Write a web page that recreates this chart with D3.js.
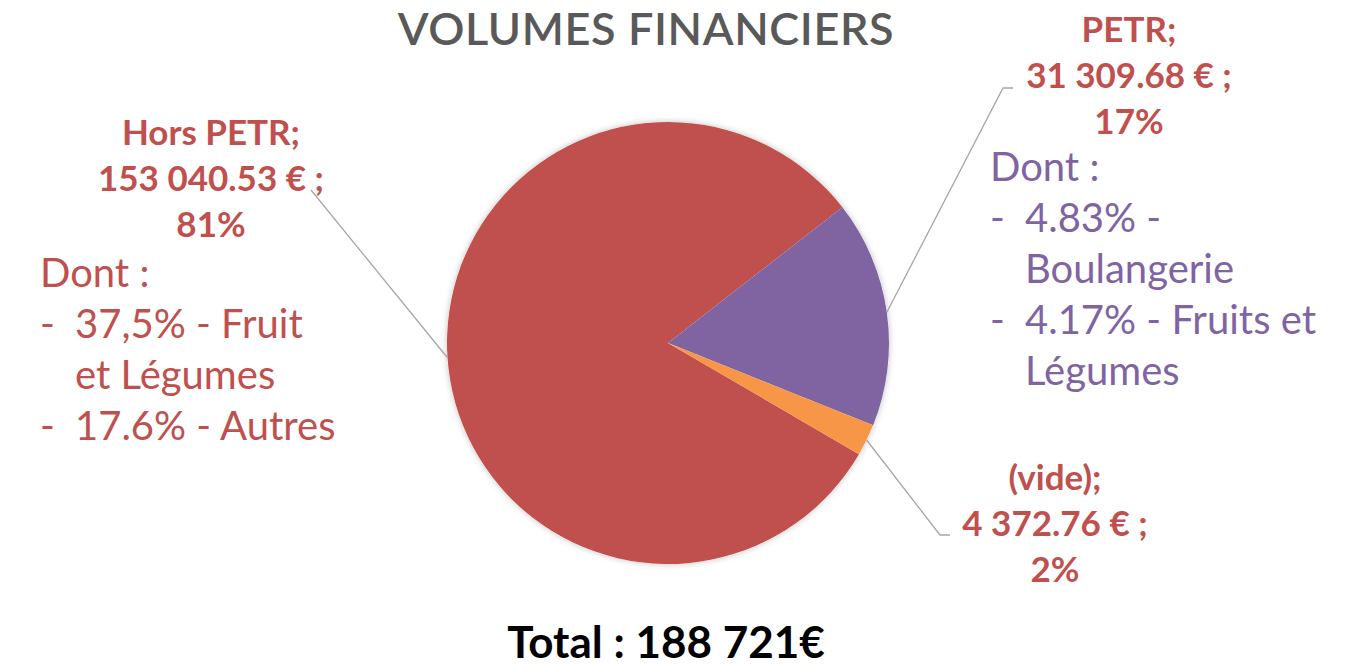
<!DOCTYPE html>
<html>
<head>
<meta charset="utf-8">
<script src="https://cdn.jsdelivr.net/npm/d3@7"></script>
<style>
  body { margin: 0; background: #fff; }
  svg text { font-family: "Lato", "Open Sans", sans-serif; }
</style>
</head>
<body>
<div id="chart"></div>
<script>
// data
var categories = ["Hors PETR", "PETR", "(vide)"];
var amounts = [153040.53, 31309.68, 4372.76];
var sliceColors = ["#C0504D", "#8064A2", "#F79646"];
var hpDetails = ["Dont :", "-|37,5% - Fruit", "|et Légumes", "-|17.6% - Autres"];
var petrDetails = ["Dont :", "-|4.83% -", "|Boulangerie", "-|4.17% - Fruits et", "|Légumes"];
var totalText = "Total : 188 721€";

var svgWidth = 1346, svgHeight = 667;
var cx = 668, cy = 343, radius = 221;

var svg = d3.select("#chart").append("svg")
  .attr("width", svgWidth)
  .attr("height", svgHeight);

// soft shadow behind pie
var defs = svg.append("defs");
var f = defs.append("filter").attr("id", "shadow")
  .attr("x", "-10%").attr("y", "-10%").attr("width", "120%").attr("height", "120%");
f.append("feDropShadow").attr("dx", 0).attr("dy", 0).attr("stdDeviation", 3)
  .attr("flood-color", "#000").attr("flood-opacity", 0.25);

// title
svg.append("text")
  .attr("x", 646).attr("y", 45)
  .attr("text-anchor", "middle")
  .attr("font-size", 45)
  .attr("letter-spacing", 0.6)
  .attr("font-weight", 600)
  .attr("fill", "#595959")
  .text("VOLUMES FINANCIERS");

var data = categories.map(function(c, i) {
  return { name: c, value: amounts[i], color: sliceColors[i] };
});
var total = d3.sum(amounts);

var deg = Math.PI / 180;
var pie = d3.pie().sort(null).value(function(d) { return d.value; })
  .startAngle(120.2 * deg).endAngle(120.2 * deg + 2 * Math.PI);
var arcs = pie(data);
var arc = d3.arc().innerRadius(0).outerRadius(radius);

var pieG = svg.append("g").attr("transform", "translate(" + cx + "," + cy + ")");
pieG.append("circle").attr("r", radius).attr("fill", "#fff").attr("filter", "url(#shadow)");
pieG.selectAll("path.slice")
  .data(arcs)
  .enter().append("path")
  .attr("class", "slice")
  .attr("d", arc)
  .attr("fill", function(d) { return d.data.color; });

// number formatting like "153 040.53 €"
var fr = d3.formatLocale({ decimal: ".", thousands: " ", grouping: [3], currency: ["", " €"] });
var fmtVal = fr.format(",.2f");
function pctText(v) { return Math.round(v / total * 100) + "%"; }

// point on pie edge at mid angle
function edgePoint(a) {
  var m = (a.startAngle + a.endAngle) / 2;
  return [cx + radius * Math.sin(m), cy - radius * Math.cos(m)];
}

// label anchors (x centre, first baseline) and leader end points
var labelPos = [
  { x: 211, y: 145, line: [[311, 190]] },
  { x: 1129, y: 42, line: [[1003, 88], [1013, 88]] },
  { x: 1055, y: 490, line: [[940, 535], [950, 535]] }
];

arcs.forEach(function(a, i) {
  var p = labelPos[i];
  var pts = [edgePoint(a)].concat(p.line);
  svg.append("path")
    .attr("d", d3.line()(pts))
    .attr("fill", "none")
    .attr("stroke", "#A6A6A6")
    .attr("stroke-width", 1.3);

  var lines = [a.data.name + ";", fmtVal(a.data.value) + " € ;", pctText(a.data.value)];
  lines.forEach(function(t, j) {
    svg.append("text")
      .attr("x", p.x).attr("y", p.y + j * 46)
      .attr("text-anchor", "middle")
      .attr("font-size", 35)
      .attr("font-weight", 700)
      .attr("fill", "#C0504D")
      .text(t);
  });
});

// detail blocks
function detailBlock(list, x, y0, color) {
  list.forEach(function(t, j) {
    var y = y0 + j * 51;
    if (t.indexOf("|") < 0) {
      svg.append("text").attr("x", x).attr("y", y)
        .attr("font-size", 40).attr("fill", color).text(t);
      return;
    }
    var parts = t.split("|");
    if (parts[0]) {
      svg.append("text").attr("x", x).attr("y", y)
        .attr("font-size", 40).attr("fill", color).text(parts[0]);
    }
    svg.append("text").attr("x", x + 35).attr("y", y)
      .attr("font-size", 40).attr("fill", color).text(parts[1]);
  });
}
detailBlock(hpDetails, 40, 287, "#C0504D");
detailBlock(petrDetails, 990, 181, "#8064A2");

// total
svg.append("text")
  .attr("x", 666).attr("y", 658)
  .attr("text-anchor", "middle")
  .attr("font-size", 44)
  .attr("font-weight", 700)
  .attr("fill", "#000")
  .text(totalText);
</script>
</body>
</html>
